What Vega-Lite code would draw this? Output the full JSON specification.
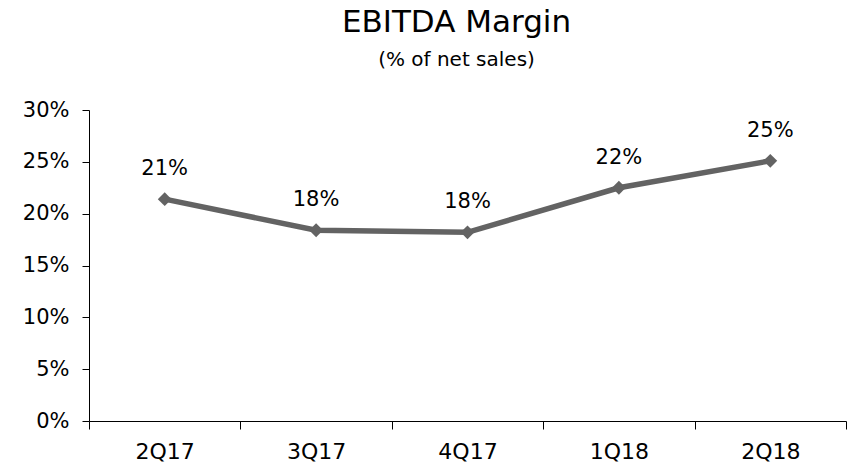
{
  "$schema": "https://vega.github.io/schema/vega-lite/v6.json",
  "width": 757,
  "height": 311,
  "autosize": "none",
  "padding": {"left": 89, "top": 110, "right": 3, "bottom": 47},
  "background": "white",
  "title": {
    "text": "EBITDA Margin",
    "subtitle": "(% of net sales)",
    "font": "DejaVu Sans",
    "fontSize": 31,
    "fontWeight": "normal",
    "color": "#000000",
    "subtitleFont": "DejaVu Sans",
    "subtitleFontSize": 20,
    "subtitleColor": "#000000",
    "subtitlePadding": 11,
    "anchor": "middle",
    "frame": "group",
    "dx": -11,
    "offset": 28
  },
  "data": {
    "values": [
      {"quarter": "2Q17", "margin": 21.4, "label": "21%"},
      {"quarter": "3Q17", "margin": 18.4, "label": "18%"},
      {"quarter": "4Q17", "margin": 18.2, "label": "18%"},
      {"quarter": "1Q18", "margin": 22.5, "label": "22%"},
      {"quarter": "2Q18", "margin": 25.1, "label": "25%"}
    ]
  },
  "encoding": {
    "x": {
      "field": "quarter",
      "type": "ordinal",
      "sort": null,
      "title": null,
      "scale": {"paddingInner": 0, "paddingOuter": 0},
      "axis": {
        "labelAngle": 0,
        "labelFont": "DejaVu Sans",
        "labelFontSize": 22,
        "labelColor": "#000000",
        "labelPadding": 12,
        "tickBand": "extent",
        "tickSize": 8,
        "tickColor": "#000000",
        "domainColor": "#000000",
        "grid": false
      }
    },
    "y": {
      "field": "margin",
      "type": "quantitative",
      "title": null,
      "scale": {"domain": [0, 30], "nice": false},
      "axis": {
        "values": [0, 5, 10, 15, 20, 25, 30],
        "labelExpr": "datum.value + '%'",
        "labelFont": "DejaVu Sans",
        "labelFontSize": 21,
        "labelColor": "#000000",
        "labelPadding": 13,
        "tickSize": 7,
        "tickColor": "#000000",
        "domainColor": "#000000",
        "grid": false
      }
    }
  },
  "layer": [
    {
      "mark": {"type": "line", "color": "#636363", "strokeWidth": 5.5}
    },
    {
      "mark": {"type": "point", "shape": "diamond", "filled": true, "color": "#636363", "size": 190, "opacity": 1}
    },
    {
      "mark": {"type": "text", "font": "DejaVu Sans", "fontSize": 21, "color": "#000000", "baseline": "alphabetic", "dy": -24},
      "encoding": {"text": {"field": "label"}}
    }
  ],
  "config": {"view": {"stroke": null}}
}
